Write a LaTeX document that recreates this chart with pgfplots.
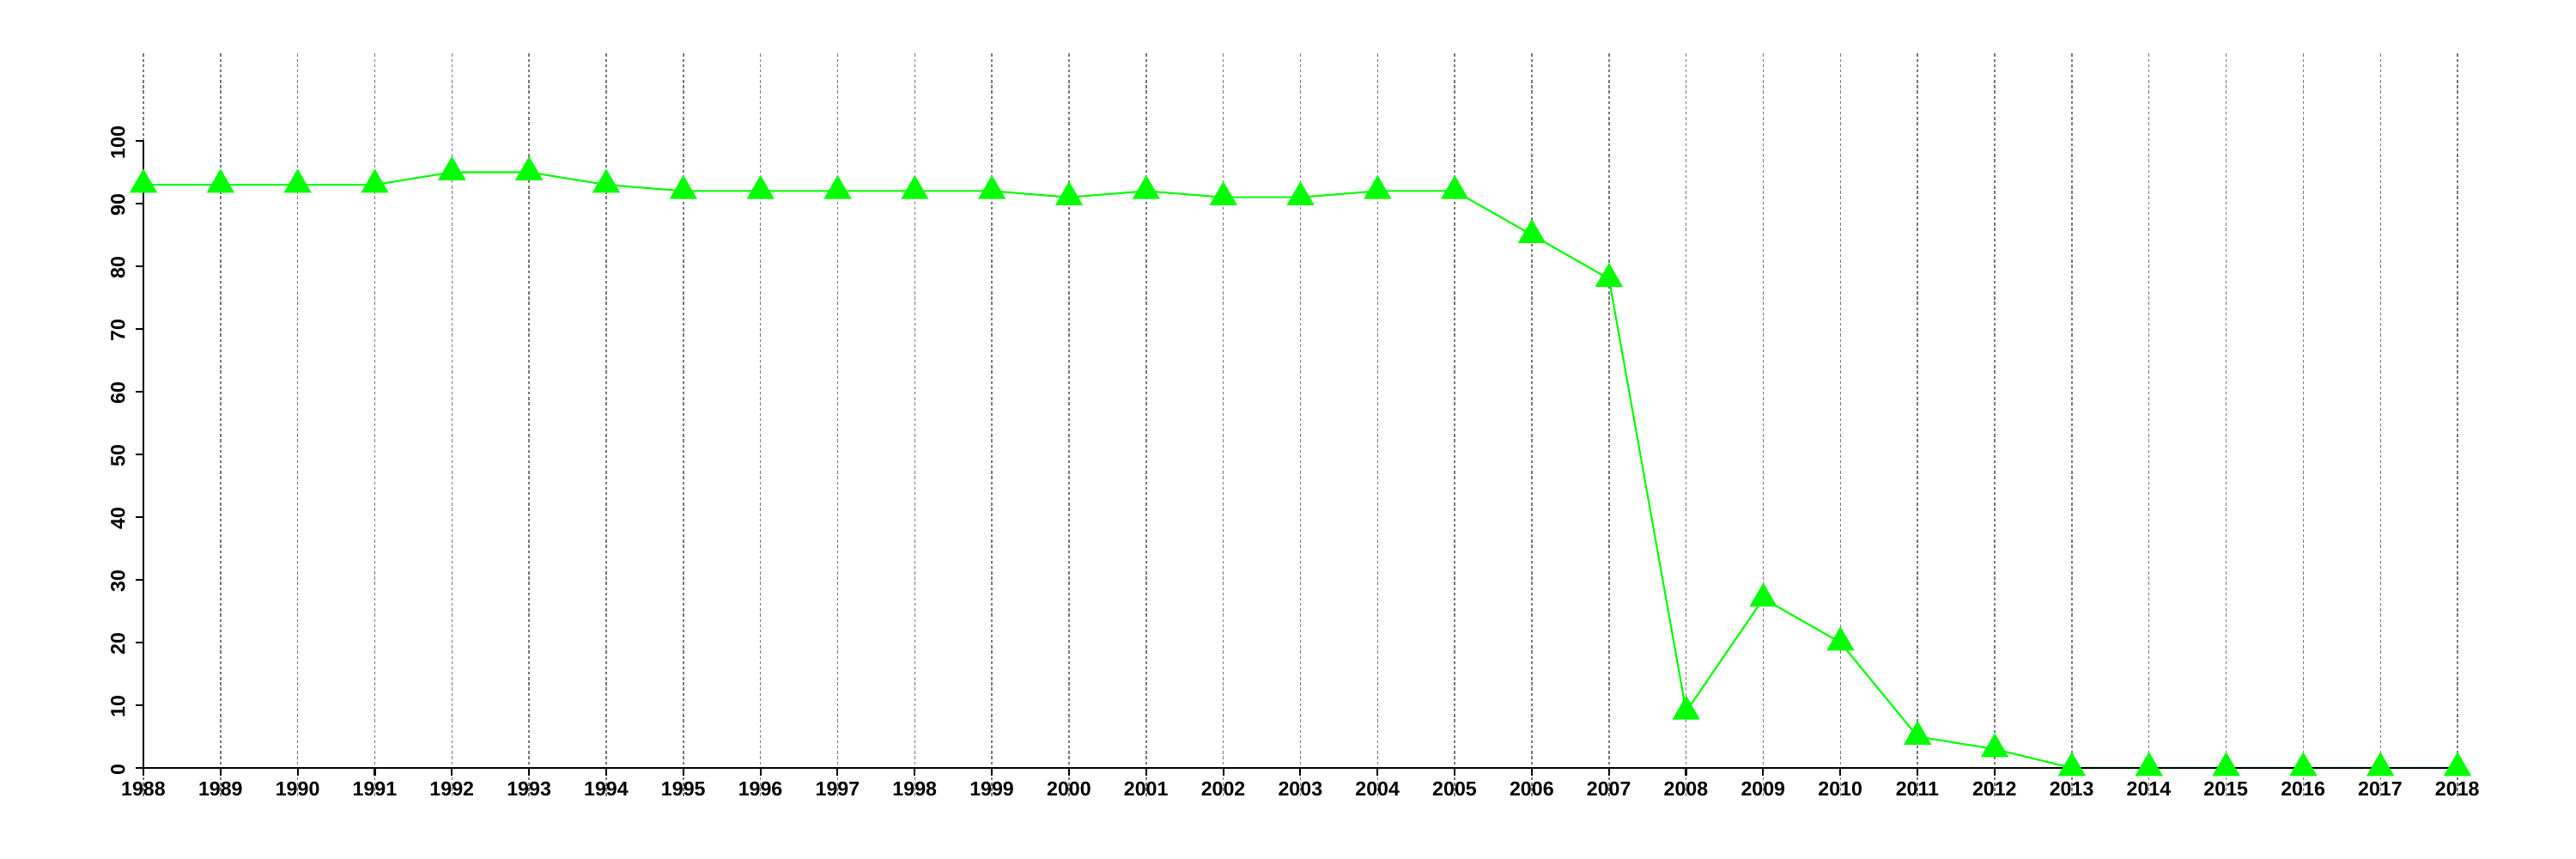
\documentclass[border=0pt]{standalone}
\usepackage{pgfplots}
\pgfplotsset{compat=1.18}
\usepackage{fontspec}
\setmainfont{Liberation Sans}
\begin{document}
\begin{tikzpicture}
\useasboundingbox (-1.67cm,-1.06cm) rectangle (28.33cm,8.94cm);
\begin{axis}[
  at={(0,0)}, anchor=south west,
  scale only axis,
  width=26.95cm, height=7.30cm,
  xmin=1988, xmax=2018, ymin=0, ymax=100,
  clip=false,
  axis on top,
  axis x line*=bottom, axis y line*=left,
  axis line style={-, line width=0.6pt, black},
  xtick={1988,...,2018},
  ytick={0,10,...,100},
  tick align=outside,
  major tick length=0.09cm,
  tick style={black, line width=0.6pt},
  /pgf/number format/.cd, 1000 sep={}, assume math mode=true,
  /pgfplots/.cd,
  ticklabel style={font=\fontsize{6.6}{7}\selectfont\bfseries},
  xticklabel style={yshift=0.05cm},
  yticklabel style={rotate=90, anchor=south, xshift=-0.02cm},
]
\addplot[color={rgb,255:red,0;green,255;blue,0}, line width=0.6pt, mark=triangle*, mark size=4.7pt, mark options={solid, fill={rgb,255:red,0;green,255;blue,0}, draw={rgb,255:red,0;green,255;blue,0}}]
coordinates {
(1988,93) (1989,93) (1990,93) (1991,93) (1992,95) (1993,95) (1994,93)
(1995,92) (1996,92) (1997,92) (1998,92) (1999,92) (2000,91) (2001,92)
(2002,91) (2003,91) (2004,92) (2005,92) (2006,85) (2007,78) (2008,9)
(2009,27) (2010,20) (2011,5) (2012,3) (2013,0) (2014,0) (2015,0)
(2016,0) (2017,0) (2018,0)
};
\pgfplotsinvokeforeach{1988,...,2018}{
  \draw[color={rgb,255:red,120;green,120;blue,120}, line width=0.4pt, dash pattern=on 0.95pt off 0.8pt] (axis cs:#1,-4.5) -- (axis cs:#1,114.2);
}
\end{axis}
\end{tikzpicture}
\end{document}
